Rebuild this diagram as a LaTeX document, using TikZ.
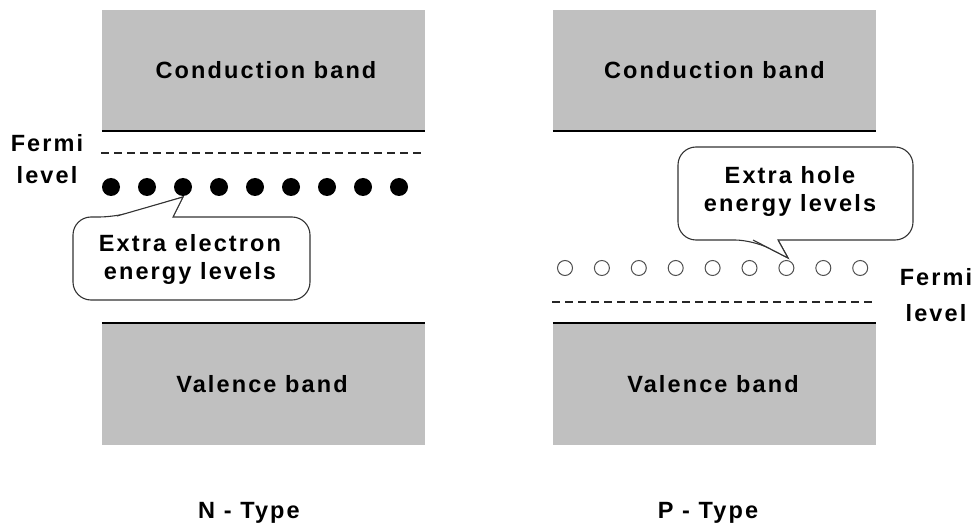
\documentclass[tikz,border=0pt]{standalone}
\usepackage{fontspec}
\setmainfont{Liberation Sans}[LetterSpace=9]
\definecolor{bandgray}{HTML}{C0C0C0}
\definecolor{holegray}{HTML}{505050}
\tikzset{
  lbl/.style={font=\fontsize{23.5}{28}\selectfont\bfseries, inner sep=0pt, align=center},
  band/.style={fill=bandgray, draw=none, minimum width=323pt, inner sep=0pt},
  edgeline/.style={line width=1.5pt, black},
  fermiline/.style={line width=1.2pt, dash pattern=on 8pt off 5pt, black!85},
  edot/.style={circle, fill=black, draw=none, minimum size=18pt, inner sep=0pt},
  hdot/.style={circle, draw=holegray, line width=1pt, fill=white, minimum size=15pt, inner sep=0pt},
  callout/.style={draw=black!80, line width=1.1pt, fill=white},
}
\begin{document}
\begin{tikzpicture}[x=1pt, y=-1pt]
\useasboundingbox (0,0) rectangle (977,529);

% ---------- N-type ----------
\node[band, minimum height=121pt] (cbL) at (263.5,70.5) {};
\node[lbl] (cbLt) at (266,70) {Conduction band};
\draw[edgeline] (cbL.south west) -- (cbL.south east);

\node[band, minimum height=122pt] (vbL) at (263.5,384) {};
\node[lbl] (vbLt) at (262,384) {Valence band};
\draw[edgeline] (vbL.north west) -- (vbL.north east);

\coordinate (fLa) at (101,153);
\coordinate (fLb) at (424,153);
\draw[fermiline] (fLa) -- (fLb);

\node[lbl, font=\fontsize{23.5}{32}\selectfont\bfseries] (fermiL) at (47,159) {Fermi\\level};

\foreach \i in {1,...,9}{
  \node[edot] (e\i) at ({111+36*(\i-1)},187) {};
}

\coordinate (tipL) at (183,197);
\draw[callout, rounded corners=18pt]
  (173,217) -- (310,217) -- (310,300) -- (73,300) -- (73,217) -- (117,217)
  [sharp corners] -- (tipL) -- cycle;
\draw[callout] (173,217) -- (tipL) -- (117,216);
\node[lbl] (cN) at (190,259) {Extra electron\\energy levels};

\node[lbl] (nType) at (249,513) {N - Type};

% ---------- P-type ----------
\node[band, minimum height=121pt] (cbR) at (714.5,70.5) {};
\node[lbl] (cbRt) at (714.5,70) {Conduction band};
\draw[edgeline] (cbR.south west) -- (cbR.south east);

\node[band, minimum height=122pt] (vbR) at (714.5,384) {};
\node[lbl] (vbRt) at (713,384) {Valence band};
\draw[edgeline] (vbR.north west) -- (vbR.north east);

\coordinate (fRa) at (552,302);
\coordinate (fRb) at (875,302);
\draw[fermiline] (fRa) -- (fRb);

\node[lbl, font=\fontsize{23.5}{36}\selectfont\bfseries] (fermiR) at (936,295) {Fermi\\level};

\foreach \i in {1,...,9}{
  \node[hdot] (h\i) at ({565+36.9*(\i-1)},268) {};
}

\coordinate (tipR) at (788,258);
\draw[callout, rounded corners=18pt]
  (778,240) -- (913,240) -- (913,147) -- (678,147) -- (678,240) -- (753,240)
  [sharp corners] -- (tipR) -- cycle;
\draw[callout] (753,240) -- (tipR) -- (778,240);
\node[lbl] (cP) at (790,191) {Extra hole\\energy levels};

\node[lbl] (pType) at (708,513) {P - Type};
\end{tikzpicture}
\end{document}
